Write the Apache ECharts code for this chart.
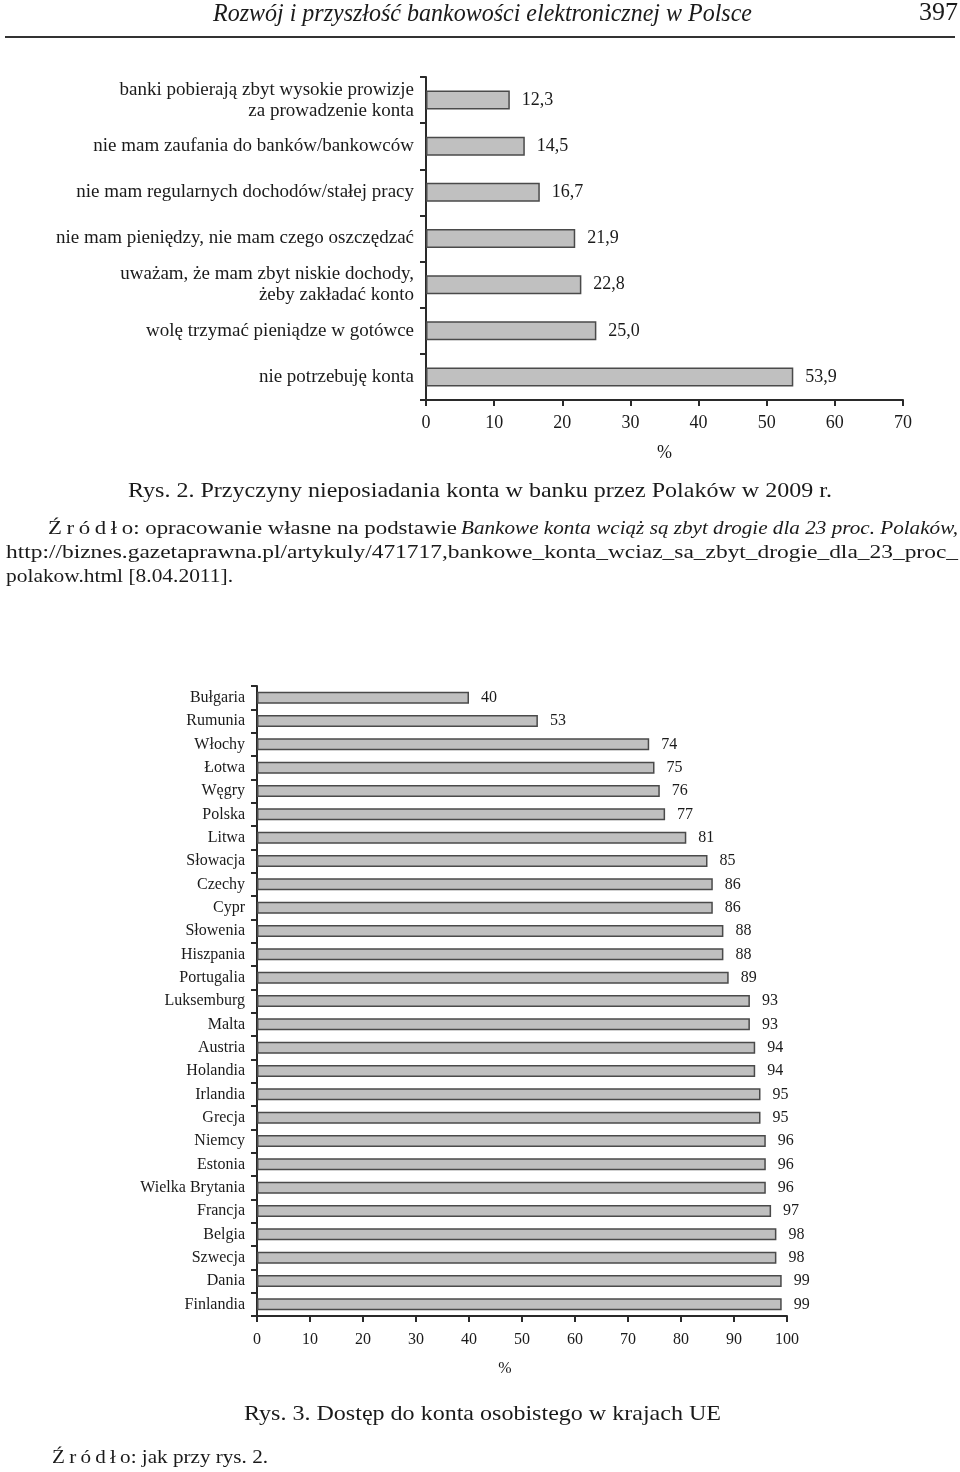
<!DOCTYPE html>
<html><head><meta charset="utf-8">
<script src="https://cdn.jsdelivr.net/npm/echarts@6/dist/echarts.min.js"></script>
<style>html,body{margin:0;padding:0;background:#fff}#c{width:960px;height:1472px}</style>
</head><body><div id="c"></div>
<script>
// ---- Chart 1 data (Rys. 2) ----
const reasons = [
  'banki pobierają zbyt wysokie prowizje\nza prowadzenie konta',
  'nie mam zaufania do banków/bankowców',
  'nie mam regularnych dochodów/stałej pracy',
  'nie mam pieniędzy, nie mam czego oszczędzać',
  'uważam, że mam zbyt niskie dochody,\nżeby zakładać konto',
  'wolę trzymać pieniądze w gotówce',
  'nie potrzebuję konta'
];
const reasonValues = [12.3, 14.5, 16.7, 21.9, 22.8, 25.0, 53.9];
const axis1Ticks = [0, 10, 20, 30, 40, 50, 60, 70];

// ---- Chart 2 data (Rys. 3) ----
const countries = ['Bułgaria','Rumunia','Włochy','Łotwa','Węgry','Polska','Litwa','Słowacja','Czechy','Cypr',
  'Słowenia','Hiszpania','Portugalia','Luksemburg','Malta','Austria','Holandia','Irlandia','Grecja','Niemcy',
  'Estonia','Wielka Brytania','Francja','Belgia','Szwecja','Dania','Finlandia'];
const countryValues = [40,53,74,75,76,77,81,85,86,86,88,88,89,93,93,94,94,95,95,96,96,96,97,98,98,99,99];
const axis2Ticks = [0,10,20,30,40,50,60,70,80,90,100];

const SERIF = '"Liberation Serif", "DejaVu Serif", serif';
const INK = '#1a1a1a';
const LINE = '#2a2a2a';

const mctx = document.createElement('canvas').getContext('2d');
function measure(text, font) { mctx.font = font; return mctx.measureText(text).width; }
function fitText(text, font, x0, x1, yc) {
  const s = (x1 - x0) / measure(text, font);
  return { type: 'text', x: x0, y: yc, scaleX: s, silent: true,
    style: { text: text, font: font, fill: INK, align: 'left', verticalAlign: 'middle', textAlign: 'left', textVerticalAlign: 'middle' } };
}
const TS = '\u2009';
const zrodlo = ['Ź','r','ó','d','ł','o'].join(TS) + ':';

const graphics = [
  fitText('Rozwój i przyszłość bankowości elektronicznej w Polsce', 'italic 25px ' + SERIF, 213, 752, 14),
  fitText('397', '25px ' + SERIF, 919, 958, 13),
  { type: 'line', silent: true, shape: { x1: 5, y1: 37, x2: 955, y2: 37 }, style: { stroke: '#333', lineWidth: 2 } },
  fitText('Rys. 2. Przyczyny nieposiadania konta w banku przez Polaków w 2009 r.', '22px ' + SERIF, 128, 832, 491),
  fitText(zrodlo + ' opracowanie własne na podstawie', '19px ' + SERIF, 48, 457, 529),
  fitText('Bankowe konta wciąż są zbyt drogie dla 23 proc. Polaków,', 'italic 19px ' + SERIF, 461, 958, 529),
  fitText('http://biznes.gazetaprawna.pl/artykuly/471717,bankowe_konta_wciaz_sa_zbyt_drogie_dla_23_proc_', '19px ' + SERIF, 6, 958, 553),
  fitText('polakow.html [8.04.2011].', '19px ' + SERIF, 6, 233, 577),
  fitText('Rys. 3. Dostęp do konta osobistego w krajach UE', '22px ' + SERIF, 244, 721, 1414),
  fitText(zrodlo + ' jak przy rys. 2.', '19px ' + SERIF, 52, 268, 1458)
];

function catAxis(gridIndex, data, fontSize, lineHeight) {
  return {
    type: 'category', gridIndex: gridIndex, data: data, inverse: true,
    axisLine: { show: true, lineStyle: { color: LINE, width: 2 } },
    axisTick: { show: true, inside: false, length: 6, alignWithLabel: false, lineStyle: { color: LINE, width: 2 } },
    axisLabel: { margin: 12, color: INK, fontFamily: SERIF, fontSize: fontSize, lineHeight: lineHeight, align: 'right' },
    splitLine: { show: false }
  };
}
function valAxis(gridIndex, ticks, fontSize, labelMargin, nameGap, namePad) {
  return {
    type: 'value', gridIndex: gridIndex, min: ticks[0], max: ticks[ticks.length - 1], interval: ticks[1] - ticks[0],
    axisLine: { show: true, lineStyle: { color: LINE, width: 2 } },
    axisTick: { show: true, inside: false, length: 6, lineStyle: { color: LINE, width: 2 } },
    axisLabel: { margin: labelMargin, color: INK, fontFamily: SERIF, fontSize: fontSize },
    splitLine: { show: false },
    name: '%', nameLocation: 'middle', nameGap: nameGap,
    nameTextStyle: { color: INK, fontFamily: SERIF, fontSize: fontSize, padding: namePad }
  };
}

const chart = echarts.init(document.getElementById('c'), null, { renderer: 'canvas' });
chart.setOption({
  backgroundColor: '#ffffff',
  animation: false,
  grid: [
    { left: 426, top: 77, width: 477, height: 323, containLabel: false },
    { left: 257, top: 686, width: 530, height: 630, containLabel: false }
  ],
  xAxis: [
    valAxis(0, axis1Ticks, 18, 14, 44, [0, 0, 0, 0]),
    valAxis(1, axis2Ticks, 16, 16, 45, [0, 34, 0, 0])
  ],
  yAxis: [
    catAxis(0, reasons, 19, 21),
    catAxis(1, countries, 16, 18)
  ],
  series: [
    {
      type: 'bar', xAxisIndex: 0, yAxisIndex: 0, data: reasonValues, barWidth: 19,
      itemStyle: { color: '#c0c0c0', borderColor: '#4a4a4a', borderWidth: 1.5 },
      label: { show: true, position: 'right', distance: 12, color: INK, fontFamily: SERIF, fontSize: 18,
        formatter: function (p) { return p.value.toFixed(1).replace('.', ','); } }
    },
    {
      type: 'bar', xAxisIndex: 1, yAxisIndex: 1, data: countryValues, barWidth: 12,
      itemStyle: { color: '#c0c0c0', borderColor: '#4a4a4a', borderWidth: 1.5 },
      label: { show: true, position: 'right', distance: 12, color: INK, fontFamily: SERIF, fontSize: 16 }
    }
  ],
  graphic: graphics
});
</script>
</body></html>
